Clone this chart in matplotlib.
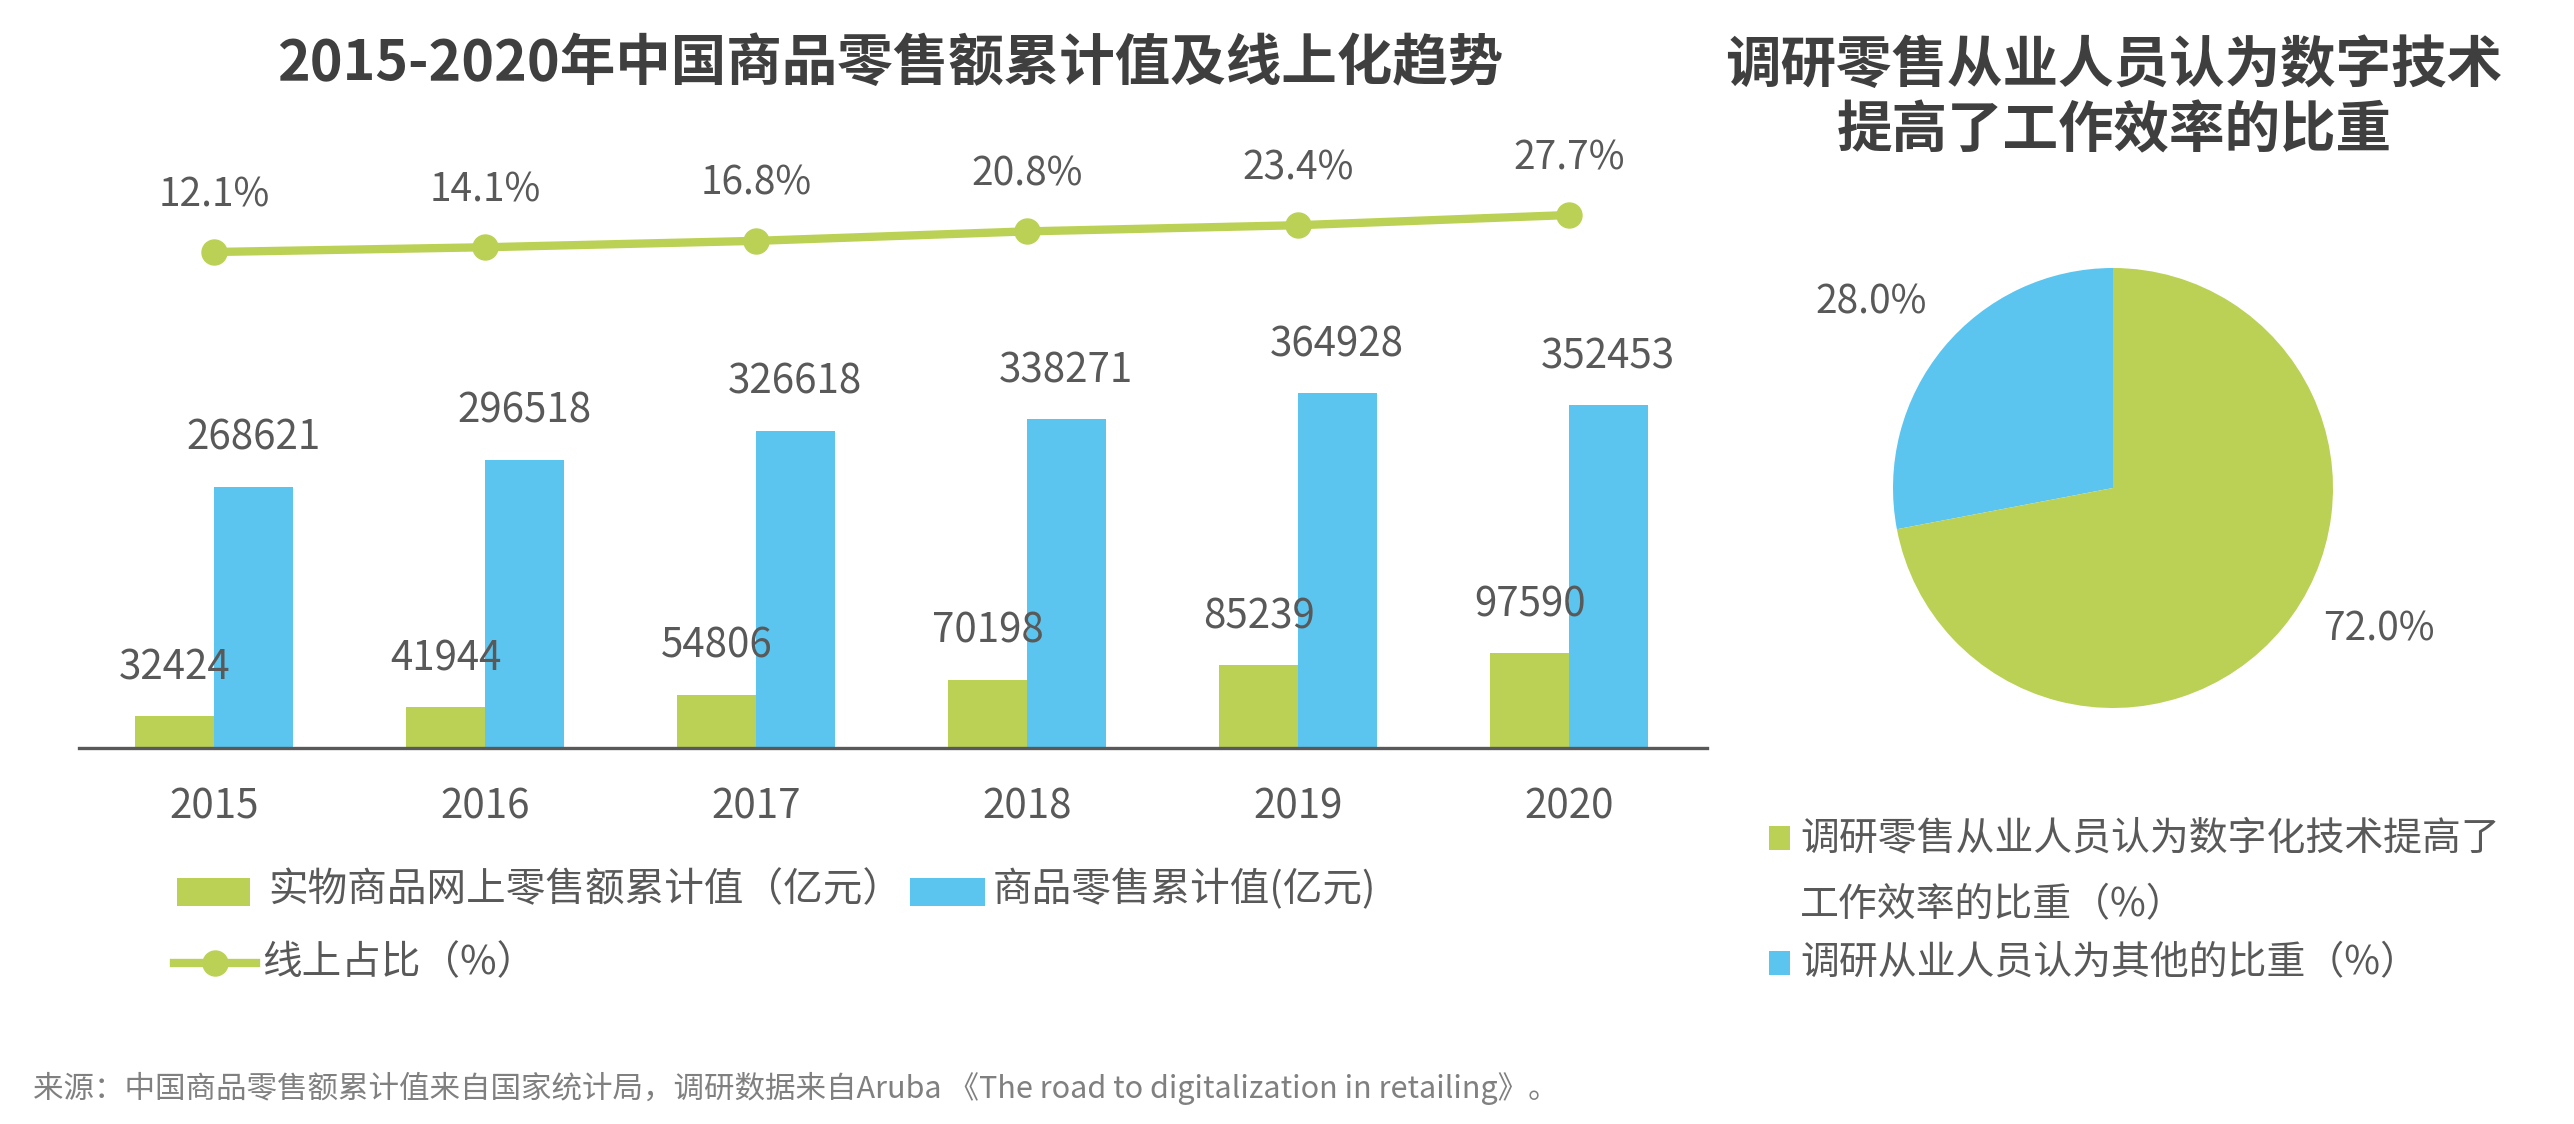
import numpy as np
import matplotlib
matplotlib.use("Agg")
import matplotlib.pyplot as plt
from matplotlib.patches import Rectangle
from matplotlib.lines import Line2D

plt.rcParams['font.family'] = ['Noto Sans CJK SC', 'DejaVu Sans']

# ---------------- data ----------------
years = ['2015', '2016', '2017', '2018', '2019', '2020']
online_sales = [32424, 41944, 54806, 70198, 85239, 97590]          # 实物商品网上零售额累计值（亿元）
total_sales = [268621, 296518, 326618, 338271, 364928, 352453]     # 商品零售累计值(亿元)
online_share = [12.1, 14.1, 16.8, 20.8, 23.4, 27.7]                # 线上占比（%）

pie_values = [28.0, 72.0]
pie_names = ['调研从业人员认为其他的比重（%）',
             '调研零售从业人员认为数字化技术提高了工作效率的比重（%）']

title_left = '2015-2020年中国商品零售额累计值及线上化趋势'
title_right_1 = '调研零售从业人员认为数字技术'
title_right_2 = '提高了工作效率的比重'
legend_bar_1 = '实物商品网上零售额累计值（亿元）'
legend_bar_2 = '商品零售累计值(亿元)'
legend_line = '线上占比（%）'
legend_pie_1a = '调研零售从业人员认为数字化技术提高了'
legend_pie_1b = '工作效率的比重（%）'
legend_pie_2 = '调研从业人员认为其他的比重（%）'
footnote = '来源：中国商品零售额累计值来自国家统计局，调研数据来自Aruba 《The road to digitalization in retailing》。'

# ---------------- style ----------------
GREEN = '#BBD155'
BLUE = '#5BC5EF'
TITLE_C = '#3F3F3F'
TEXT_C = '#595959'
FOOT_C = '#808080'

W, H = 2574, 1124
fig = plt.figure(figsize=(W / 100, H / 100), dpi=100)
fig.patch.set_facecolor('white')


def fx(px):
    return px / W


def fy(py):
    return 1 - py / H


# ---------------- bar + line chart ----------------
ax_left, ax_right, ax_top, ax_bottom = 79, 1707, 150, 748
cat0, step = 214, 271
px_per_unit = 0.000972
ax = fig.add_axes([fx(ax_left), fy(ax_bottom), (ax_right - ax_left) / W, (ax_bottom - ax_top) / H])
x = np.arange(len(years))
w = 0.29
ax.bar(x - w / 2, online_sales, w, color=GREEN, zorder=2)
ax.bar(x + w / 2, total_sales, w, color=BLUE, zorder=2)
ax.set_xlim((ax_left - cat0) / step, (ax_right - cat0) / step)
ax.set_ylim(0, (ax_bottom - ax_top) / px_per_unit)
for xi, v in zip(x, online_sales):
    ax.annotate(f'{v}', (xi - w / 2, v), xytext=(0, 35), textcoords='offset points',
                ha='center', va='center', fontsize=29, color=TEXT_C)
for xi, v in zip(x, total_sales):
    ax.annotate(f'{v}', (xi + w / 2, v), xytext=(0, 35), textcoords='offset points',
                ha='center', va='center', fontsize=29, color=TEXT_C)
for s in ['top', 'right', 'left']:
    ax.spines[s].set_visible(False)
ax.spines['bottom'].set_color('#595959')
ax.spines['bottom'].set_linewidth(2.4)
ax.set_yticks([])
ax.set_xticks(x, years)
ax.tick_params(axis='x', length=0, pad=28, labelsize=29, labelcolor=TEXT_C)

ax2 = ax.twinx()
y12 = 252
pct_px = 2.37
ax2.set_ylim(online_share[0] - (ax_bottom - y12) / pct_px, online_share[0] + (y12 - ax_top) / pct_px)
ax2.plot(x, online_share, color=GREEN, lw=6, marker='o', ms=18, zorder=3)
for xi, v in zip(x, online_share):
    ax2.annotate(f'{v:.1f}%', (xi, v), xytext=(0, 41), textcoords='offset points',
                 ha='center', va='center', fontsize=28, color=TEXT_C)
for s in ax2.spines.values():
    s.set_visible(False)
ax2.set_yticks([])

# legend (bars / line)
fig.patches.append(Rectangle((fx(177), fy(906)), 73 / W, 28 / H, transform=fig.transFigure,
                             facecolor=GREEN, edgecolor='none'))
fig.text(fx(268), fy(890), legend_bar_1, fontsize=28.5, color=TEXT_C, ha='left', va='center')
fig.patches.append(Rectangle((fx(910), fy(906)), 75 / W, 28 / H, transform=fig.transFigure,
                             facecolor=BLUE, edgecolor='none'))
fig.text(fx(993), fy(890), legend_bar_2, fontsize=28.5, color=TEXT_C, ha='left', va='center')
fig.lines.append(Line2D([fx(174), fx(256)], [fy(963), fy(963)], transform=fig.transFigure,
                        color=GREEN, lw=6))
fig.lines.append(Line2D([fx(215)], [fy(963)], transform=fig.transFigure,
                        color=GREEN, marker='o', ms=18, lw=0))
fig.text(fx(262), fy(963), legend_line, fontsize=28.5, color=TEXT_C, ha='left', va='center')

# ---------------- pie ----------------
cx, cy, r = 2113, 488, 220
ax3 = fig.add_axes([fx(cx - r), fy(cy + r), 2 * r / W, 2 * r / H])
ax3.pie(pie_values, colors=[BLUE, GREEN], startangle=90, counterclock=True,
        wedgeprops=dict(linewidth=0))
ax3.set_xlim(-1, 1)
ax3.set_ylim(-1, 1)
pie_label_pos = [(-1.10, 0.845), (1.209, -0.641)]
for (lx, ly), v in zip(pie_label_pos, pie_values):
    ax3.text(lx, ly, f'{v:.1f}%', fontsize=28, color=TEXT_C, ha='center', va='center')

# pie legend
fig.patches.append(Rectangle((fx(1769), fy(850)), 21 / W, 24 / H, transform=fig.transFigure,
                             facecolor=GREEN, edgecolor='none'))
fig.text(fx(1800), fy(838), legend_pie_1a, fontsize=28, color=TEXT_C, ha='left', va='center')
fig.text(fx(1800), fy(905), legend_pie_1b, fontsize=28, color=TEXT_C, ha='left', va='center')
fig.patches.append(Rectangle((fx(1769), fy(975)), 21 / W, 24 / H, transform=fig.transFigure,
                             facecolor=BLUE, edgecolor='none'))
fig.text(fx(1800), fy(963), legend_pie_2, fontsize=28, color=TEXT_C, ha='left', va='center')

# ---------------- titles & footnote ----------------
fig.text(fx(890), fy(64), title_left, fontsize=40, fontweight='bold', color=TITLE_C,
         ha='center', va='center')
fig.text(fx(2114), fy(66), title_right_1, fontsize=40, fontweight='bold', color=TITLE_C,
         ha='center', va='center')
fig.text(fx(2114), fy(131), title_right_2, fontsize=40, fontweight='bold', color=TITLE_C,
         ha='center', va='center')
fig.text(fx(33), fy(1088), footnote, fontsize=22, color=FOOT_C, ha='left', va='center')

fig.savefig('out.png', dpi=100, facecolor='white')
